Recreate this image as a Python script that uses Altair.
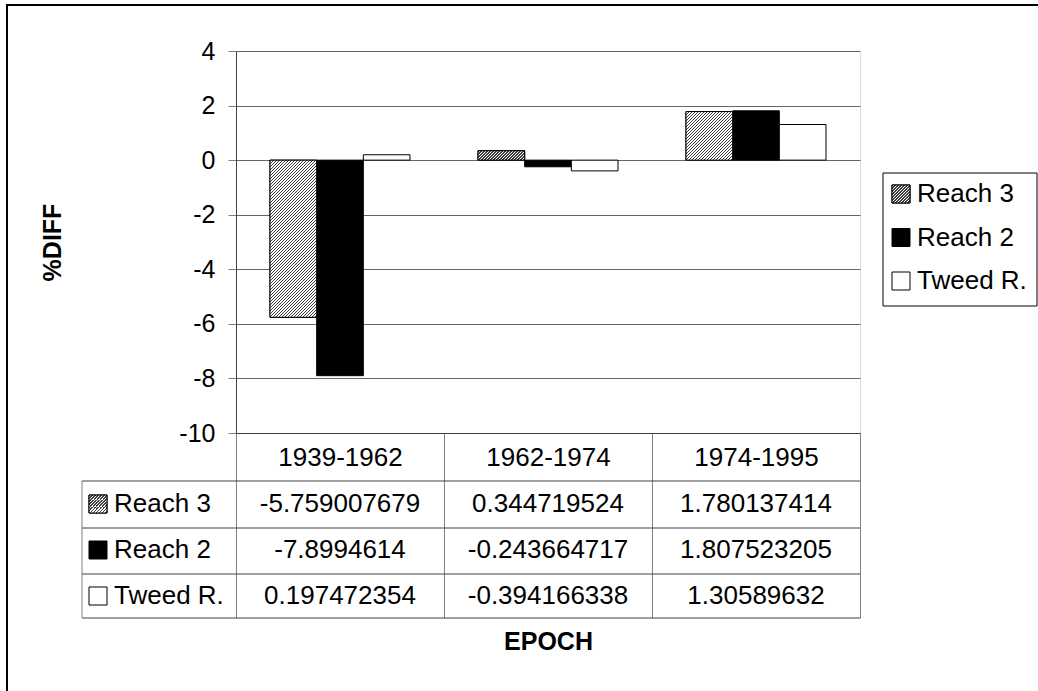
import math
import altair as alt
import pandas as pd

# ---- data ----
epochs = ["1939-1962", "1962-1974", "1974-1995"]
series = ["Reach 3", "Reach 2", "Tweed R."]
reach3 = [-5.759007679, 0.344719524, 1.780137414]
reach2 = [-7.8994614, -0.243664717, 1.807523205]
tweed = [0.197472354, -0.394166338, 1.30589632]
y_ticks = [-10, -8, -6, -4, -2, 0, 2, 4]
fills = ["#b0b0b0", "#000000", "#ffffff"]

rows = []
for s, vals in zip(series, [reach3, reach2, tweed]):
    for e, v in zip(epochs, vals):
        rows.append({"epoch": e, "series": s, "value": v, "label": repr(v)})
df = pd.DataFrame(rows)
df_series = pd.DataFrame({"series": series})
one = pd.DataFrame({"k": [0]})

FONT = "Liberation Sans"
W, H = 624, 382
Y_DOMAIN = [-10, 4]
OFF_PAD = 0.7286
HATCH_PERIOD = 3 / math.sqrt(2)      # 3 px horizontal repeat
HATCH_LINE = 1.4 / math.sqrt(2)


def hatch(w, h, period=HATCH_PERIOD, line=HATCH_LINE, color="#404040"):
    """Diagonal ('/') hatch as a hard-stop linear gradient for a w x h box."""
    L = (w + h) / math.sqrt(2)
    a = (w + h) / (w * w + h * h)
    stops = []
    n = int(L / period) + 1
    for k in range(n):
        t0 = min(k * period / L, 1)
        t1 = min((k * period + line) / L, 1)
        t2 = min((k + 1) * period / L, 1)
        stops += [
            {"offset": t0, "color": color},
            {"offset": t1, "color": color},
            {"offset": t1, "color": "white"},
            {"offset": t2, "color": "white"},
        ]
    return {"gradient": "linear", "x1": 0, "y1": 0, "x2": a * w, "y2": a * h, "stops": stops}


x_axis = alt.Axis(
    title="EPOCH", labelAngle=0, tickBand="extent", tickSize=185,
    labelPadding=-161, labelBaseline="middle", labelFontSize=26,
    labelFont=FONT, labelColor="black", domainColor="#404040",
    tickColor="#808080", titleFontSize=25, titleFont=FONT,
    titleFontWeight="bold", titleColor="black", titleX=312, titleY=208,
    titleBaseline="middle", titleAlign="center",
)
y_axis = alt.Axis(
    values=y_ticks, title="%DIFF", tickSize=8, labelPadding=13,
    labelExpr="'' + datum.value",
    labelFontSize=25, labelFont=FONT, labelColor="black",
    domainColor="#404040", tickColor="#808080", gridColor="#666666",
    titleFontSize=25, titleFont=FONT, titleFontWeight="bold",
    titleColor="black", titleX=-184, titleY=191, titleAngle=270,
    titleBaseline="middle", titleAlign="center",
)

fill_scale = alt.Scale(domain=series, range=fills)
sym_hatch = hatch(18, 18)

x_enc = alt.X("epoch:N", sort=epochs, scale=alt.Scale(paddingInner=0, paddingOuter=0), axis=x_axis)
xoff_enc = alt.XOffset("series:N", sort=series,
                       scale=alt.Scale(domain=series, paddingInner=0, paddingOuter=OFF_PAD))

bars = alt.Chart(df).mark_bar(stroke="black", strokeWidth=1).encode(
    x=x_enc,
    xOffset=xoff_enc,
    y=alt.Y("value:Q", scale=alt.Scale(domain=Y_DOMAIN, nice=False, zero=False), axis=y_axis),
    fill=alt.Fill("series:N", sort=series, scale=fill_scale, legend=None),
)

# hatched overlays for the Reach 3 bars (pattern sized to each bar)
step_off = (W / len(epochs)) / (len(series) + 2 * OFF_PAD)
px_per_unit = H / (Y_DOMAIN[1] - Y_DOMAIN[0])
hatch_layers = []
for e, v in zip(epochs, reach3):
    sub = df[(df.series == "Reach 3") & (df.epoch == e)]
    g = hatch(step_off, abs(v) * px_per_unit)
    hatch_layers.append(
        alt.Chart(sub).mark_bar(fill=g, stroke="black", strokeWidth=1).encode(
            x=alt.X("epoch:N", sort=epochs),
            xOffset=xoff_enc,
            y=alt.Y("value:Q", scale=alt.Scale(domain=Y_DOMAIN, nice=False, zero=False), axis=None),
        )
    )

# ---- data table rows ----
ty = alt.Y("series:N", scale=alt.Scale(type="point", domain=series, range=[453, 545], padding=0), axis=None)

cell_text = alt.Chart(df).mark_text(fontSize=26, font=FONT, align="center", baseline="middle", color="black").encode(
    x=alt.X("epoch:N", sort=epochs),
    y=ty,
    text="label:N",
)

def symbols(yenc, xpos):
    base = alt.Chart(df_series).mark_square(size=324, stroke="black", strokeWidth=1, opacity=1).encode(
        x=alt.value(xpos), y=yenc,
        fill=alt.Fill("series:N", sort=series, scale=fill_scale, legend=None),
    )
    hat = alt.Chart(df_series[df_series.series == "Reach 3"]).mark_square(
        size=324, stroke="black", strokeWidth=1, opacity=1, fill=sym_hatch).encode(
        x=alt.value(xpos), y=yenc,
    )
    return [base, hat]

def labels(yenc, xpos):
    return alt.Chart(df_series).mark_text(fontSize=26, font=FONT, align="left", baseline="middle", color="black").encode(
        x=alt.value(xpos), y=yenc, text="series:N",
    )

# ---- legend (box + entries) ----
ly = alt.Y("series:N", scale=alt.Scale(type="point", domain=series, range=[143, 230], padding=0), axis=None)
legend_box = alt.Chart(one).mark_rect(fill="white", stroke="black", strokeWidth=1).encode(
    x=alt.value(647), x2=alt.value(801), y=alt.value(122), y2=alt.value(255))


def hline(y, color):
    return alt.Chart(one).mark_rule(color=color, strokeWidth=1).encode(
        x=alt.value(-154), x2=alt.value(W), y=alt.value(y))


lines = [hline(430, "#404040"), hline(477, "#404040"), hline(523, "#404040"), hline(567, "#404040")]
vline = alt.Chart(one).mark_rule(color="#808080", strokeWidth=1).encode(
    x=alt.value(-154), y=alt.value(430), y2=alt.value(567))

border = alt.Chart(one).mark_rect(fillOpacity=0, stroke="black", strokeWidth=2).encode(
    x=alt.value(-229), x2=alt.value(900), y=alt.value(-46), y2=alt.value(720))

chart = alt.layer(
    border, bars, *hatch_layers, *lines, vline, cell_text,
    *symbols(ty, -138), labels(ty, -122),
    legend_box, *symbols(ly, 665), labels(ly, 681),
).resolve_scale(y="independent").properties(
    width=W, height=H,
    autosize=alt.AutoSizeParams(type="none"),
    padding={"left": 236, "top": 51, "right": 178, "bottom": 258},
    background="white",
).configure_view(stroke="#808080", strokeWidth=1).configure(font=FONT)

chart.save("out.html", embed_options={"renderer": "svg", "actions": False})
